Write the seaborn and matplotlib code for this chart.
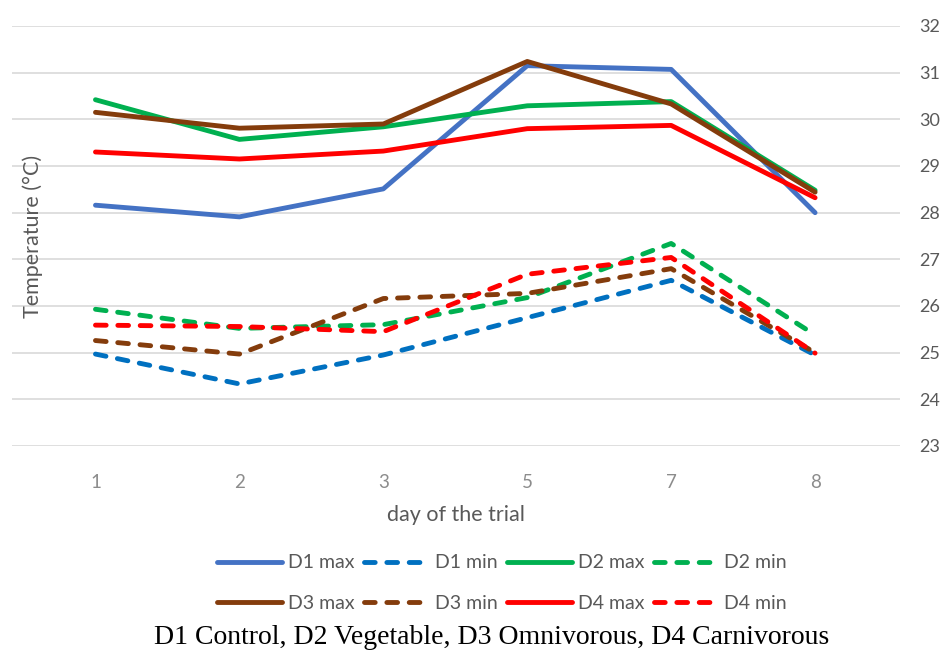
import pandas as pd
import matplotlib
matplotlib.use('Agg')
import matplotlib.pyplot as plt
import seaborn as sns

# --------------------------------------------------
# Data
# --------------------------------------------------
days = ['1', '2', '3', '5', '7', '8']

d1_max = [28.16, 27.91, 28.51, 31.15, 31.07, 28.00]
d1_min = [24.97, 24.33, 24.95, 25.75, 26.55, 24.95]
d2_max = [30.42, 29.57, 29.84, 30.29, 30.38, 28.48]
d2_min = [25.93, 25.52, 25.60, 26.18, 27.34, 25.38]
d3_max = [30.15, 29.81, 29.90, 31.24, 30.33, 28.44]
d3_min = [25.26, 24.97, 26.16, 26.27, 26.80, 25.00]
d4_max = [29.30, 29.15, 29.32, 29.80, 29.87, 28.32]
d4_min = [25.59, 25.56, 25.45, 26.68, 27.04, 24.99]

series_names = ['D1 max', 'D1 min', 'D2 max', 'D2 min',
                'D3 max', 'D3 min', 'D4 max', 'D4 min']
series_values = [d1_max, d1_min, d2_max, d2_min, d3_max, d3_min, d4_max, d4_min]
series_colors = ['#4472C4', '#0070C0', '#00B050', '#00B050',
                 '#843C0C', '#843C0C', '#FF0000', '#FF0000']

caption = 'D1 Control, D2 Vegetable, D3 Omnivorous, D4 Carnivorous'

# --------------------------------------------------
# Plot
# --------------------------------------------------
sns.set_style('white')
plt.rcParams['font.family'] = ['Lato', 'DejaVu Sans']

fig = plt.figure(figsize=(9.44, 6.53), dpi=100)
ax = fig.add_axes([12 / 944, 1 - 446 / 653, 888 / 944, 420 / 653])

for name, vals, color in zip(series_names, series_values, series_colors):
    dashed = name.endswith('min')
    sns.lineplot(x=days, y=vals, ax=ax, color=color, label=name,
                 linewidth=3.5, sort=False)
    ln = ax.lines[-1]
    if dashed:
        ln.set_linestyle((0, (2.2, 2.4)))
        ln.set_dash_capstyle('round')
    ln.set_solid_capstyle('round')
    ln.set_solid_joinstyle('round')

ax.set_ylim(23, 32)
ax.set_xlim(-0.58, 5.59)
ax.set_yticks(range(23, 33))
ax.yaxis.tick_right()
ax.grid(axis='y', color='#D9D9D9', linewidth=1.2)
ax.set_axisbelow(True)
for s in ax.spines.values():
    s.set_visible(False)
ax.tick_params(axis='y', length=0, pad=14, labelsize=13, labelcolor='#595959')
ax.tick_params(axis='x', length=0, pad=20, labelsize=13.5, labelcolor='#8C8C8C')

ax.set_xlabel('day of the trial', fontsize=15.5, color='#595959', labelpad=10)
ax.set_ylabel('Temperature (°C)', fontsize=15.5, color='#595959')
ax.yaxis.set_label_position('left')
ax.yaxis.set_label_coords(31 / 888, 0.5)

# Legend below the plot, two rows (row-major order)
handles, labels = ax.get_legend_handles_labels()
ax.get_legend().remove()
order = [0, 4, 1, 5, 2, 6, 3, 7]
handles = [handles[i] for i in order]
labels = [labels[i] for i in order]
for h in handles:
    h.set_dash_capstyle('round')
    h.set_solid_capstyle('round')
leg = fig.legend(handles, labels, ncol=4, loc='center',
                 bbox_to_anchor=(502 / 944, 1 - 583 / 653),
                 frameon=False, fontsize=14, handlelength=3.35,
                 handletextpad=0.28, columnspacing=0.5, labelspacing=1.2)
for t in leg.get_texts():
    t.set_color('#595959')

fig.text(492 / 944, 1 - 638 / 653, caption, ha='center', va='center',
         fontsize=20, family=['Liberation Serif', 'DejaVu Serif'], color='black')

fig.savefig('out.png', dpi=100)
